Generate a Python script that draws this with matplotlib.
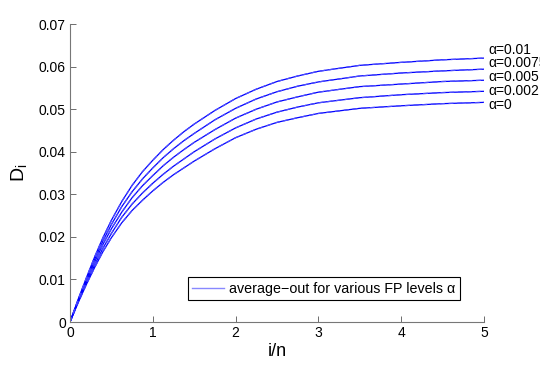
import matplotlib
matplotlib.use("Agg")
import matplotlib.pyplot as plt
from matplotlib.lines import Line2D

plt.rcParams['font.family'] = ['Liberation Sans', 'DejaVu Sans']

# i/n sample points
x = [0, .1, .2, .3, .4, .5, .625, .75, .875, 1, 1.125, 1.25, 1.375, 1.5,
     1.75, 2, 2.25, 2.5, 2.75, 3, 3.5, 4, 4.5, 5]

# D_i for each FP level alpha
d_a0 = [0, .0046, .0089, .0129, .0166, .0198, .0233, .0262, .0286, .0308,
        .0328, .0346, .0362, .0378, .0407, .0433, .0453, .0469, .0480, .0490,
        .0502, .0508, .0513, .0516]
d_a0002 = [0, .0048, .0093, .0135, .0174, .0208, .0246, .0277, .0303, .0326,
           .0347, .0366, .0383, .0400, .0430, .0456, .0477, .0493, .0505, .0515,
           .0527, .0534, .0539, .0542]
d_a0005 = [0, .0050, .0097, .0142, .0183, .0219, .0258, .0292, .0320, .0344,
           .0367, .0387, .0405, .0422, .0452, .0479, .0500, .0517, .0529, .0540,
           .0553, .0559, .0565, .0568]
d_a00075 = [0, .0052, .0101, .0148, .0191, .0229, .0271, .0306, .0336, .0362,
            .0386, .0407, .0426, .0443, .0475, .0502, .0524, .0541, .0554, .0564,
            .0578, .0585, .0590, .0594]
d_a001 = [0, .0054, .0105, .0154, .0199, .0239, .0283, .0321, .0353, .0380,
          .0405, .0427, .0447, .0465, .0497, .0525, .0547, .0565, .0578, .0589,
          .0603, .0610, .0616, .0620]

curves = [d_a0, d_a0002, d_a0005, d_a00075, d_a001]
labels = ['\u03b1=0', '\u03b1=0.002', '\u03b1=0.005', '\u03b1=0.0075', '\u03b1=0.01']
label_y = [0.0510, 0.0543, 0.0575, 0.0608, 0.0639]

fig = plt.figure(figsize=(5.4, 3.7), dpi=100)
ax = fig.add_axes([0.1296, 0.1297, 0.7667, 0.8053])

for d in curves:
    ax.plot(x, d, color='#0000ff', lw=0.9)
    ax.plot(x, d, color='#4d4dff', lw=0.9, ls=(0, (4, 3)))

for lab, ly in zip(labels, label_y):
    ax.text(5.05, ly, lab, fontsize=10, va='center', ha='left', clip_on=False)

ax.set_xlim(0, 5)
ax.set_ylim(0, 0.07)
ax.set_xticks([0, 1, 2, 3, 4, 5])
ax.set_yticks([0, 0.01, 0.02, 0.03, 0.04, 0.05, 0.06, 0.07])
ax.set_yticklabels(['0', '0.01', '0.02', '0.03', '0.04', '0.05', '0.06', '0.07'])
ax.tick_params(direction='in', length=4, width=0.6, color='#555555',
               labelsize=10, pad=3)
for s in ['top', 'right']:
    ax.spines[s].set_visible(False)
for s in ['left', 'bottom']:
    ax.spines[s].set_color('#777777')
    ax.spines[s].set_linewidth(0.8)

ax.set_xlabel('i/n', fontsize=13, labelpad=2)
ax.set_ylabel('D$_\\mathregular{i}$', fontsize=14, labelpad=6)

handle = Line2D([0], [0], color='#8888ff', lw=1.0)
leg = ax.legend([handle], ['average\u2212out for various FP levels \u03b1'],
                loc='lower left', bbox_to_anchor=(0.285, 0.074),
                borderaxespad=0, fontsize=10.3, fancybox=False, framealpha=1,
                edgecolor='black', borderpad=0.3, handlelength=2.2,
                handletextpad=0.4)
leg.get_frame().set_linewidth(0.8)

fig.savefig('out.png', dpi=100)
